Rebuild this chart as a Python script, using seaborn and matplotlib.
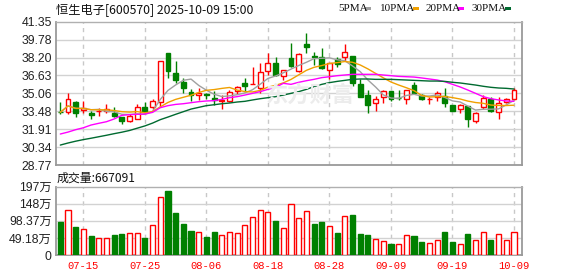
import numpy as np
import pandas as pd
import matplotlib
matplotlib.use("Agg")
import matplotlib.pyplot as plt
from matplotlib.patches import Rectangle
import seaborn as sns

# ---------------- data ----------------
dates = ['07-10','07-11','07-14','07-15','07-16','07-17','07-18','07-21','07-22','07-23',
         '07-24','07-25','07-28','07-29','07-30','07-31','08-01','08-04','08-05','08-06',
         '08-07','08-08','08-11','08-12','08-13','08-14','08-15','08-18','08-19','08-20',
         '08-21','08-22','08-25','08-26','08-27','08-28','08-29','09-01','09-02','09-03',
         '09-04','09-05','09-08','09-09','09-10','09-11','09-12','09-15','09-16','09-17',
         '09-18','09-19','09-22','09-23','09-24','09-25','09-26','09-29','09-30','10-09']
tick_dates = ['07-15','07-25','08-06','08-18','08-28','09-09','09-19','10-09']

opens  = [33.42,33.45,34.33,33.60,33.30,33.48,33.48,33.36,32.98,32.66,
          32.78,33.86,33.89,34.27,38.60,36.88,36.08,35.18,34.94,35.00,
          34.62,34.42,34.39,35.29,35.94,35.85,35.50,37.05,37.70,36.61,
          38.13,37.05,39.39,38.34,38.22,37.11,38.05,38.28,38.34,35.88,
          34.91,34.18,34.71,35.27,34.66,34.53,35.79,34.91,34.53,34.77,
          34.80,34.01,33.66,33.95,32.63,33.89,34.56,33.39,34.30,34.56]
highs  = [34.33,35.12,34.38,34.42,33.54,33.74,34.10,33.83,33.00,33.25,
          34.12,34.33,34.59,37.90,38.63,37.90,36.38,35.44,35.50,35.12,
          35.29,34.91,35.35,35.70,36.38,37.34,37.70,38.57,38.22,37.11,
          39.45,38.57,40.33,38.72,39.01,37.70,38.22,39.39,38.34,36.29,
          35.35,34.83,35.35,35.30,35.35,35.35,36.09,35.00,34.77,35.29,
          35.50,34.04,34.12,33.95,33.45,34.91,34.71,34.77,34.62,35.50]
lows   = [33.25,33.25,33.01,33.36,32.81,33.10,33.36,33.01,32.40,32.57,
          32.78,33.36,33.66,33.83,36.43,36.00,35.12,34.42,34.48,34.53,
          34.04,33.66,34.33,35.00,35.21,35.85,35.12,36.67,36.58,36.23,
          37.40,36.96,38.57,37.55,37.17,36.29,37.34,37.93,35.70,34.71,
          33.36,33.54,34.24,34.42,34.48,34.10,35.00,34.48,34.10,34.39,
          33.83,33.54,33.36,32.13,32.48,33.66,33.45,32.84,34.24,34.48]
closes = [33.39,34.53,33.30,33.74,33.16,33.54,33.66,33.10,32.66,33.07,
          33.83,33.45,34.39,37.87,37.05,36.23,35.50,34.91,35.09,34.94,
          34.48,34.48,35.21,35.59,35.73,35.88,36.90,37.75,36.67,37.11,
          37.50,38.49,39.16,38.28,37.26,37.70,37.64,38.72,36.00,34.77,
          34.04,34.56,35.27,34.60,34.62,35.32,35.06,34.53,34.59,35.09,
          34.24,33.54,34.04,32.78,33.36,34.62,33.54,34.18,34.53,35.35]
ma20 = [31.49,31.66,31.87,32.04,32.28,32.43,32.57,32.81,33.13,33.19,
        33.22,33.24,33.39,33.80,33.98,34.09,34.15,34.24,34.33,34.39,
        34.42,34.53,34.68,34.77,34.91,35.06,35.21,35.41,35.59,35.94,
        35.85,36.03,36.17,36.29,36.44,36.52,36.61,36.67,36.73,36.73,
        36.73,36.73,36.67,36.61,36.55,36.52,36.49,36.41,36.32,36.23,
        36.08,35.85,35.62,35.35,35.06,34.77,34.59,34.48,34.39,34.36]
ma30 = [30.52,30.70,30.86,31.00,31.12,31.25,31.38,31.52,31.65,31.80,
        32.00,32.20,32.45,32.75,32.98,33.22,33.45,33.68,33.83,33.98,
        34.06,34.15,34.21,34.30,34.36,34.48,34.59,34.68,34.77,34.91,
        35.06,35.21,35.41,35.65,35.85,36.00,36.11,36.20,36.29,36.32,
        36.32,36.29,36.29,36.29,36.26,36.23,36.20,36.17,36.14,36.14,
        36.11,36.03,35.97,35.88,35.79,35.68,35.59,35.53,35.50,35.44]
volume_wan = [96,130,80.6,74,54.7,48,48,58.6,61.5,63.4,
              63.4,49,86.4,167,184.4,121,90.3,69,65.3,51.9,
              66.3,57.6,66.3,63.4,86.4,109.5,129.7,123.9,98,77.8,
              147,106.6,126.8,90.3,95,83.5,64.3,112.3,116,61.5,
              58.6,46,40.3,32.6,31.7,57.6,54.7,38.4,34.6,43.2,
              66.3,38.4,31.7,60.5,43.2,66.3,43.2,60.5,43.2,66.71]
price_ticks = [28.77,30.3425,31.915,33.4875,35.06,36.6325,38.205,39.7775,41.35]
price_labels = ['28.77','30.34','31.91','33.48','35.06','36.63','38.20','39.78','41.35']
vol_ticks = [0,49.185,98.37,147.555,196.74]
vol_labels = ['0','49.18万','98.37万','148万','197万']
last_volume = '667091'

# ---------------- style ----------------
sns.set_theme(style="white")
plt.rcParams['font.family'] = ['Liberation Sans', 'Noto Sans CJK SC', 'DejaVu Sans']
RED = '#ff0000'
GREEN = '#008000'
C5, C10, C20, C30 = '#a0a0a0', '#f0a000', '#ff00ff', '#006a30'

W, H = 578, 276
fig = plt.figure(figsize=(W / 100, H / 100), dpi=100)
fig.patch.set_facecolor('white')

def rect(l, t, r, b):
    return [l / W, 1 - b / H, (r - l) / W, (b - t) / H]

ax = fig.add_axes(rect(56, 21.7, 522, 165))
axv = fig.add_axes(rect(56, 186.7, 522, 255))

df = pd.DataFrame({'date': dates, 'open': opens, 'high': highs, 'low': lows,
                   'close': closes, 'ma20': ma20, 'ma30': ma30, 'vol': volume_wan})
df['x'] = np.arange(len(df))
df['ma5'] = df['close'].rolling(5, min_periods=1).mean()
df['ma10'] = df['close'].rolling(10, min_periods=1).mean()
up = (df['close'] >= df['open']).values
prev = df['close'].shift(1).fillna(df['open'])
vol_up = (df['close'] >= prev).values

x = df['x'].values
xl = (-0.56, 60.04)
tick_pos = [dates.index(d) for d in tick_dates]

# watermark
fig.text(266 / W, 1 - 95 / H, '东方财富', fontsize=16, color='#ececec',
         fontweight='bold', family=['Noto Sans CJK SC'], va='center', ha='left', zorder=0)
ax.set_facecolor('none')

# ---------------- panels ----------------
for a in (ax, axv):
    a.set_xlim(*xl)
    for p in tick_pos:
        a.axvline(p, color='#c8c8c8', lw=1, ls=(0, (3, 3)), zorder=0)
    for s in ['left', 'right', 'bottom']:
        a.spines[s].set_color('#9a9a9a')
        a.spines[s].set_linewidth(1.3)
    a.spines['top'].set_color('#b0b0b0')
    a.spines['top'].set_linewidth(1.0)
    a.tick_params(length=0)

ax.set_ylim(28.77, 41.35)
for t in price_ticks[1:-1]:
    ax.axhline(t, color='#d2d2d2', lw=1, zorder=0)
ax.set_yticks(price_ticks)
ax.set_yticklabels(price_labels, fontsize=8.8, color='#222222')
ax.tick_params(axis='y', pad=3)
ax.set_xticks([])

colors = np.where(up, RED, GREEN)
ax.vlines(x, df['low'], df['high'], colors=colors, lw=1, zorder=2)
body_bottom = np.minimum(df['open'], df['close'])
body_h = np.maximum(np.abs(df['close'] - df['open']), 0.03)
ax.bar(x, body_h, bottom=body_bottom, width=0.64,
       color=np.where(up, 'white', GREEN), edgecolor=colors, linewidth=1, zorder=3)

for col, c in [('ma5', C5), ('ma10', C10), ('ma20', C20), ('ma30', C30)]:
    sns.lineplot(data=df, x='x', y=col, ax=ax, color=c, lw=1, legend=False, zorder=4)
ax.set_xlabel('')
ax.set_ylabel('')
ax.set_xlim(*xl)

axv.set_ylim(0, 196.74)
for t in vol_ticks[1:-1]:
    axv.axhline(t, color='#d2d2d2', lw=1, zorder=0)
vcol = np.where(vol_up, RED, GREEN)
axv.bar(x, df['vol'], width=0.66, color=np.where(vol_up, 'white', GREEN),
        edgecolor=vcol, linewidth=1, zorder=3)
axv.set_yticks(vol_ticks)
axv.set_yticklabels(vol_labels, fontsize=8.8, color='#222222')
axv.tick_params(axis='y', pad=3)
axv.set_xticks(tick_pos)
axv.set_xticklabels(tick_dates, fontsize=7.6, color=RED, family=['Liberation Mono'])
axv.tick_params(axis='x', pad=4.5)
axv.set_xlim(*xl)

# ---------------- texts ----------------
fig.text(56 / W, 1 - 9.5 / H, '恒生电子[600570] 2025-10-09 15:00', fontsize=8.8,
         color='#111111', family=['Noto Sans CJK SC', 'DejaVu Sans'], va='center', ha='left')
fig.text(57 / W, 1 - 178.3 / H, '成交量:' + last_volume, fontsize=8.6,
         color='#111111', family=['Noto Sans CJK SC', 'DejaVu Sans'], va='center', ha='left')

legend_items = [('5PMA', 338.3, C5, 365), ('10PMA', 380, C10, 412.7),
                ('20PMA', 426, C20, 458.3), ('30PMA', 471.7, C30, 505)]
for lab, lx, c, mx in legend_items:
    fig.text(lx / W, 1 - 8.7 / H, lab, fontsize=8.0, color='#111111',
             family=['Liberation Serif'], va='center', ha='left')
    fig.add_artist(Rectangle((mx / W, 1 - 10 / H), 6 / W, 3 / H,
                             transform=fig.transFigure, color=c, lw=0))

fig.savefig('out.png', dpi=100, facecolor='white')
